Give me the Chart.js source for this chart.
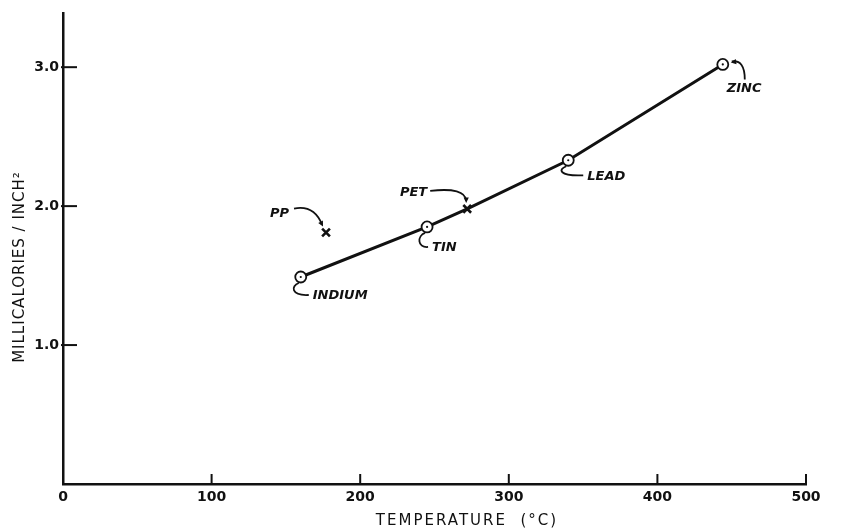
<!DOCTYPE html>
<html>
<head>
<meta charset="utf-8">
<script src="https://cdn.jsdelivr.net/npm/chart.js@4.4.1/dist/chart.umd.min.js"></script>
<style>
  html,body{margin:0;padding:0;background:#fff;}
  #wrap{width:849px;height:529px;}
</style>
</head>
<body>
<div id="wrap"><canvas id="chart" width="849" height="529"></canvas></div>
<script>
// values
const metals = ["INDIUM", "TIN", "LEAD", "ZINC"];
const metalTemp = [160, 245, 340, 444];
const metalValue = [1.49, 1.85, 2.33, 3.02];

const polymers = ["PP", "PET"];
const polymerTemp = [177, 272];
const polymerValue = [1.81, 1.98];

const xTicks = [0, 100, 200, 300, 400, 500];
const yTicks = [1.0, 2.0, 3.0];

const xTitle = "TEMPERATURE  (\u00B0C)";
const yTitle = "MILLICALORIES / INCH\u00B2";

// the drawn curve runs through the metals and the PET point
const curve = metals.map((m,i)=>({ name:m, x:metalTemp[i], y:metalValue[i] }))
  .concat([{ name:"PET", x:polymerTemp[1], y:polymerValue[1] }])
  .sort((a,b)=> a.x - b.x);

const INK = "#111";
const tickFont = { family:"DejaVu Sans", size:14, weight:"bold" };

// label placement around each point (pixel offsets)
const notes = {
  INDIUM:{ dx:12, dy:19, hook:"under" },
  TIN:   { dx:5,  dy:21, hook:"under" },
  LEAD:  { dx:19, dy:16, hook:"under" },
  ZINC:  { dx:4,  dy:24, hook:"zinc" },
  PP:    { dx:-37, dy:-19, hook:"pp", align:"right" },
  PET:   { dx:-40, dy:-16, hook:"pet", align:"right" }
};

function arrowHead(ctx, x, y, ang){
  ctx.beginPath();
  ctx.moveTo(x, y);
  ctx.lineTo(x - 6*Math.cos(ang-0.45), y - 6*Math.sin(ang-0.45));
  ctx.lineTo(x - 6*Math.cos(ang+0.45), y - 6*Math.sin(ang+0.45));
  ctx.closePath();
  ctx.fill();
}

const decor = {
  id:"decor",
  afterDatasetsDraw(chart){
    const {ctx, scales:{x, y}, chartArea:a} = chart;
    ctx.save();
    ctx.strokeStyle = INK; ctx.fillStyle = INK;

    // inside tick marks
    ctx.lineWidth = 2;
    yTicks.forEach(v=>{
      const py = y.getPixelForValue(v);
      ctx.beginPath(); ctx.moveTo(a.left-2, py); ctx.lineTo(a.left+14, py); ctx.stroke();
    });
    xTicks.slice(1).forEach(v=>{
      const px = x.getPixelForValue(v);
      ctx.beginPath(); ctx.moveTo(px, a.bottom); ctx.lineTo(px, a.bottom-10); ctx.stroke();
    });

    // centre dots in the circles
    metals.forEach((m,i)=>{
      const px = x.getPixelForValue(metalTemp[i]), py = y.getPixelForValue(metalValue[i]);
      ctx.beginPath(); ctx.arc(px, py, 1.1, 0, Math.PI*2); ctx.fill();
    });

    // labels and their hooks / arrows
    const all = metals.map((m,i)=>[m, metalTemp[i], metalValue[i]])
      .concat(polymers.map((p,i)=>[p, polymerTemp[i], polymerValue[i]]));
    ctx.font = "italic bold 13px 'DejaVu Sans'";
    ctx.textBaseline = "middle";
    ctx.lineWidth = 1.8;
    all.forEach(([name, tx, vy])=>{
      const n = notes[name];
      const px = x.getPixelForValue(tx), py = y.getPixelForValue(vy);
      ctx.textAlign = n.align || "left";
      ctx.fillText(name, px + n.dx, py + n.dy);
      ctx.beginPath();
      if (n.hook === "under"){
        ctx.moveTo(px-2, py+6);
        ctx.bezierCurveTo(px-10, py+9, px-10, py+n.dy, px+n.dx-4, py+n.dy-1);
        ctx.stroke();
      } else if (n.hook === "zinc"){
        ctx.moveTo(px+22, py+15);
        ctx.quadraticCurveTo(px+22, py-5, px+9, py-3);
        ctx.stroke();
        arrowHead(ctx, px+8, py-2, Math.PI*0.95);
      } else if (n.hook === "pp"){
        ctx.moveTo(px-32, py-24);
        ctx.quadraticCurveTo(px-12, py-28, px-4, py-8);
        ctx.stroke();
        arrowHead(ctx, px-3, py-6, Math.PI*0.35);
      } else if (n.hook === "pet"){
        ctx.moveTo(px-37, py-18);
        ctx.quadraticCurveTo(px-2, py-22, px-1, py-8);
        ctx.stroke();
        arrowHead(ctx, px-1, py-6, Math.PI*0.5);
      }
    });

    // axis titles
    ctx.font = "15px 'DejaVu Sans'";
    ctx.textAlign = "center";
    ctx.letterSpacing = "2px";
    ctx.fillText(xTitle, 467, 521);
    ctx.letterSpacing = "1px";
    ctx.save();
    ctx.translate(20, 267);
    ctx.rotate(-Math.PI/2);
    ctx.fillText(yTitle, 0, 0);
    ctx.restore();

    ctx.restore();
  }
};

new Chart(document.getElementById("chart"), {
  type:"line",
  data:{
    datasets:[
      { label:"curve", data:curve, borderColor:INK, borderWidth:3, pointRadius:0, tension:0, order:3 },
      { label:"metals", type:"scatter",
        data:metals.map((m,i)=>({x:metalTemp[i], y:metalValue[i]})),
        pointStyle:"circle", pointRadius:5.5, borderWidth:1.8, borderColor:INK, backgroundColor:"#fff", order:1 },
      { label:"polymers", type:"scatter",
        data:polymers.map((p,i)=>({x:polymerTemp[i], y:polymerValue[i]})),
        pointStyle:"crossRot", pointRadius:5.5, borderWidth:2.6, borderColor:INK, order:1 }
    ]
  },
  options:{
    responsive:false,
    animation:false,
    events:[],
    layout:{ padding:{ left:0, right:43, top:13, bottom:0 } },
    plugins:{ legend:{display:false}, tooltip:{enabled:false} },
    scales:{
      x:{
        type:"linear", min:0, max:500,
        afterBuildTicks: s => { s.ticks = xTicks.map(v=>({value:v})); },
        afterFit: s => { s.height = 45; },
        grid:{ display:false, drawTicks:false },
        border:{ color:INK, width:2.5 },
        ticks:{ color:INK, font:tickFont, padding:5, maxRotation:0 }
      },
      y:{
        type:"linear", min:0, max:3.39,
        afterBuildTicks: s => { s.ticks = yTicks.map(v=>({value:v})); },
        afterFit: s => { s.width = 63; },
        grid:{ display:false, drawTicks:false },
        border:{ color:INK, width:2.5 },
        ticks:{ color:INK, font:tickFont, padding:4, callback: v => v.toFixed(1) }
      }
    }
  },
  plugins:[decor]
});
</script>
</body>
</html>
